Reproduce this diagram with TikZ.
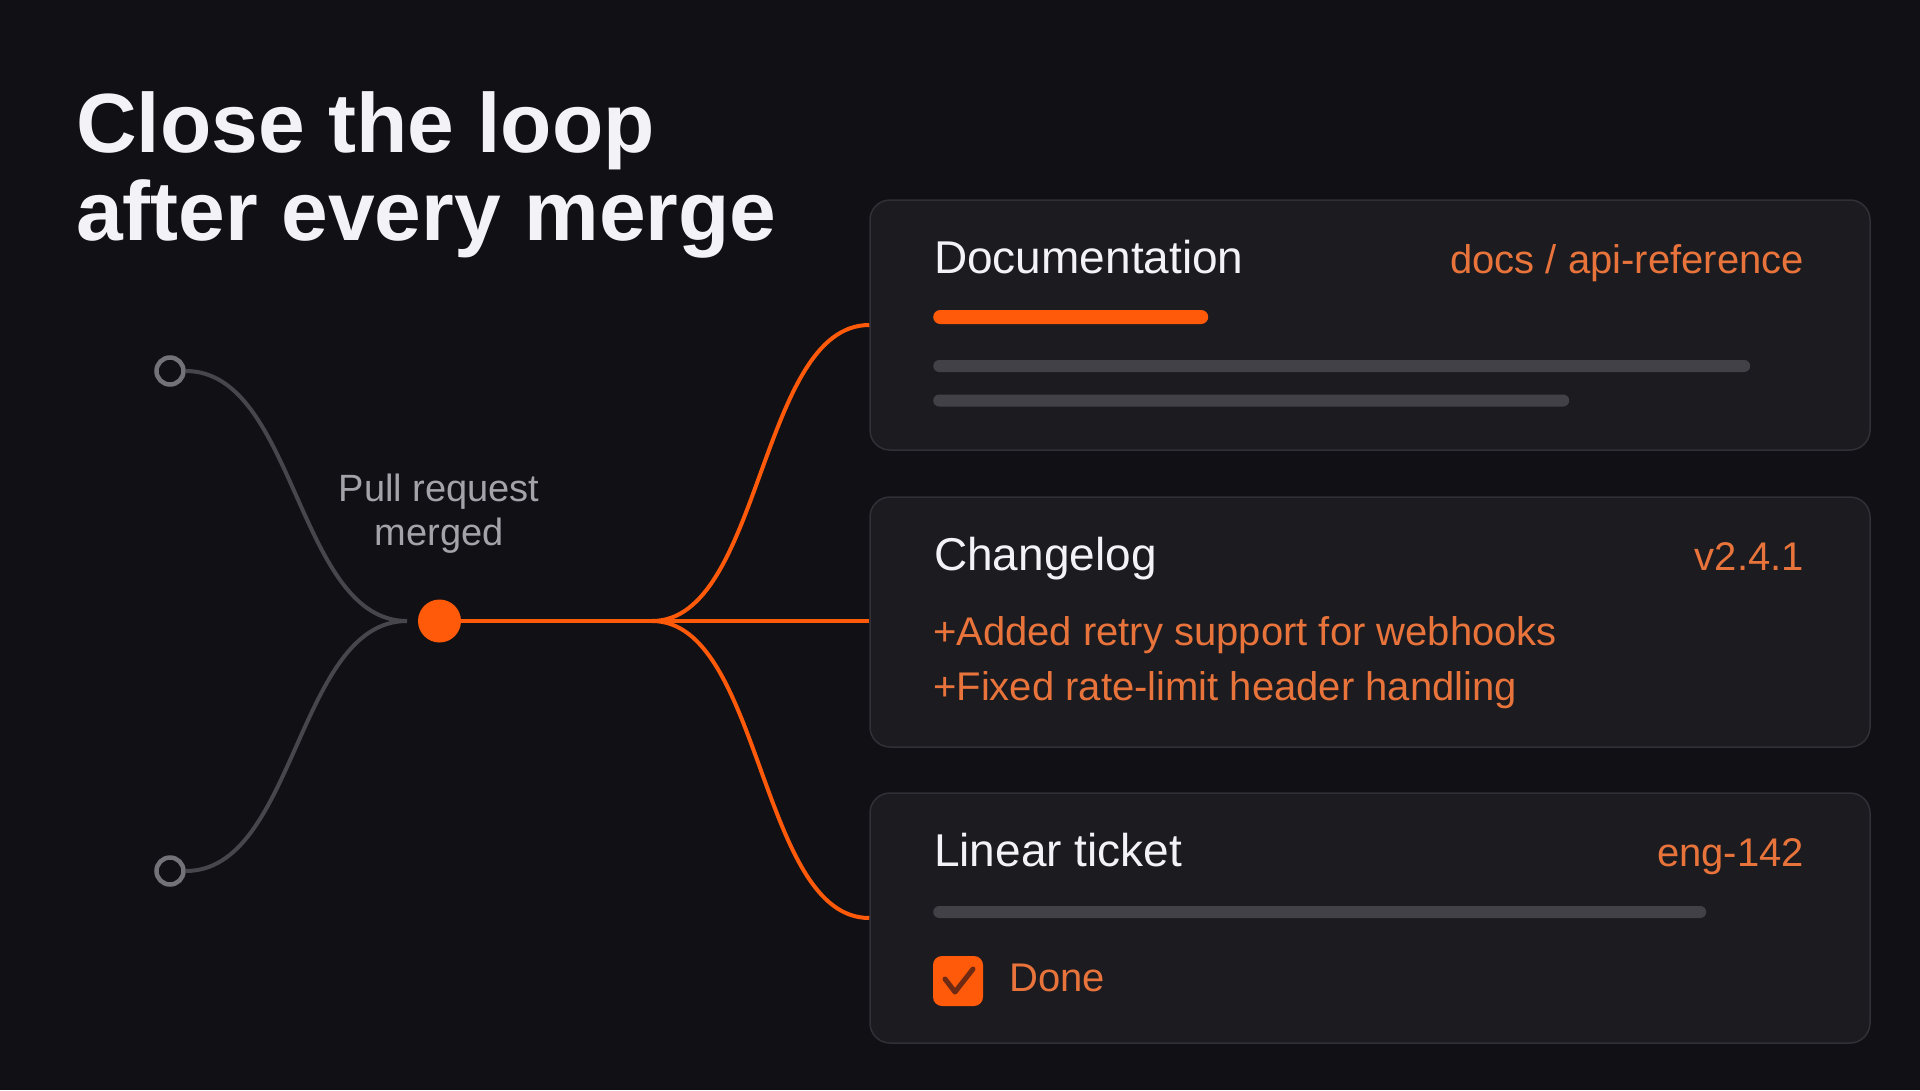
\documentclass[tikz,border=0pt]{standalone}
\usepackage{fontspec}
\setmainfont{Liberation Sans}
\definecolor{bg}{HTML}{111015}
\definecolor{cardbg}{HTML}{1C1B20}
\definecolor{cardline}{HTML}{313036}
\definecolor{barg}{HTML}{424147}
\definecolor{wire}{HTML}{47464C}
\definecolor{ring}{HTML}{737278}
\definecolor{hot}{HTML}{FF5A0A}
\definecolor{soft}{HTML}{E8743B}
\definecolor{ink}{HTML}{F3F2F6}
\definecolor{muted}{HTML}{A4A3A9}
\definecolor{checkc}{HTML}{6E2A12}
\begin{document}
\begin{tikzpicture}[x=1pt,y=-1pt,
  card/.style={draw=cardline, line width=1.5pt, fill=cardbg, rounded corners=20pt,
    minimum width=1000pt, minimum height=250pt, inner sep=0pt},
  cardtitle/.style={anchor=base west, inner sep=0pt, text=ink, font=\fontsize{46}{50}\selectfont},
  tag/.style={anchor=base east, inner sep=0pt, text=soft, font=\fontsize{40}{44}\selectfont},
  bodytext/.style={anchor=base west, inner sep=0pt, text=soft, font=\fontsize{40}{44}\selectfont},
  barbox/.style={anchor=west, inner sep=0pt, rounded corners=6pt, minimum height=12pt},
  headline/.style={anchor=base west, inner sep=0pt, text=ink, font=\fontsize{84}{88}\selectfont\bfseries},
  prlabel/.style={anchor=base, inner sep=0pt, text=muted, font=\fontsize{38}{42}\selectfont},
  ringnode/.style={circle, draw=ring, line width=4.5pt, fill=bg, minimum size=27pt, inner sep=0pt},
  graywire/.style={draw=wire, line width=4pt},
  hotwire/.style={draw=hot, line width=4pt},
]
\useasboundingbox (0,0) rectangle (1920,1090);
\fill[bg] (0,0) rectangle (1920,1090);

% title
\node[headline] (t1) at (76,152) {Close the loop};
\node[headline] (t2) at (76,240) {after every merge};

% left side
\node[ringnode] (c1) at (170,371) {};
\node[ringnode] (c2) at (170,871) {};
\coordinate (join) at (407,621);
\draw[graywire] (c1.east) .. controls +(110,0) and +(-110,0) .. (join);
\draw[graywire] (c2.east) .. controls +(110,0) and +(-110,0) .. (join);

\node[prlabel] (pr1) at (439,501) {Pull request};
\node[prlabel] (pr2) at (439,545) {merged};

% cards
\node[card] (doc) at (1370,325) {};
\node[card] (chg) at (1370,622) {};
\node[card] (lin) at (1370,918) {};

% connectors
\node[circle, fill=hot, minimum size=43pt, inner sep=0pt] (dot) at (439.5,621) {};
\coordinate (split) at (652,621);
\draw[hotwire] (dot.east) -- (split);
\draw[hotwire] (split) .. controls +(110,0) and +(-110,0) .. (doc.west);
\draw[hotwire] (split) -- (chg.west |- split);
\draw[hotwire] (split) .. controls +(110,0) and +(-110,0) .. (lin.west);

% card 1
\node[cardtitle] (doct) at (934,273) {Documentation};
\node[tag] (doctag) at (1804,273) {docs / api-reference};
\node[barbox, fill=hot, minimum width=275pt, minimum height=14pt, rounded corners=7pt] (dbar) at (933,317) {};
\node[barbox, fill=barg, minimum width=817pt] (g1) at (933,366) {};
\node[barbox, fill=barg, minimum width=636pt] (g2) at (933,400.5) {};

% card 2
\node[cardtitle] (chgt) at (934,570) {Changelog};
\node[tag] (chgtag) at (1804,570) {v2.4.1};
\node[bodytext] (l1) at (933,645) {+Added retry support for webhooks};
\node[bodytext] (l2) at (933,700) {+Fixed rate-limit header handling};

% card 3
\node[cardtitle] (lint) at (934,866) {Linear ticket};
\node[tag] (lintag) at (1804,866) {eng-142};
\node[barbox, fill=barg, minimum width=773pt] (g3) at (933,912) {};
\node[fill=hot, rounded corners=9pt, minimum size=50pt, inner sep=0pt] (box) at (958,981) {};
\draw[checkc, line width=5pt, line cap=round, line join=round]
  ([shift={(-13,-2)}]box.center) -- ([shift={(-3,11)}]box.center) -- ([shift={(15,-12)}]box.center);
\node[bodytext] (done) at (1009,991) {Done};
\end{tikzpicture}
\end{document}
